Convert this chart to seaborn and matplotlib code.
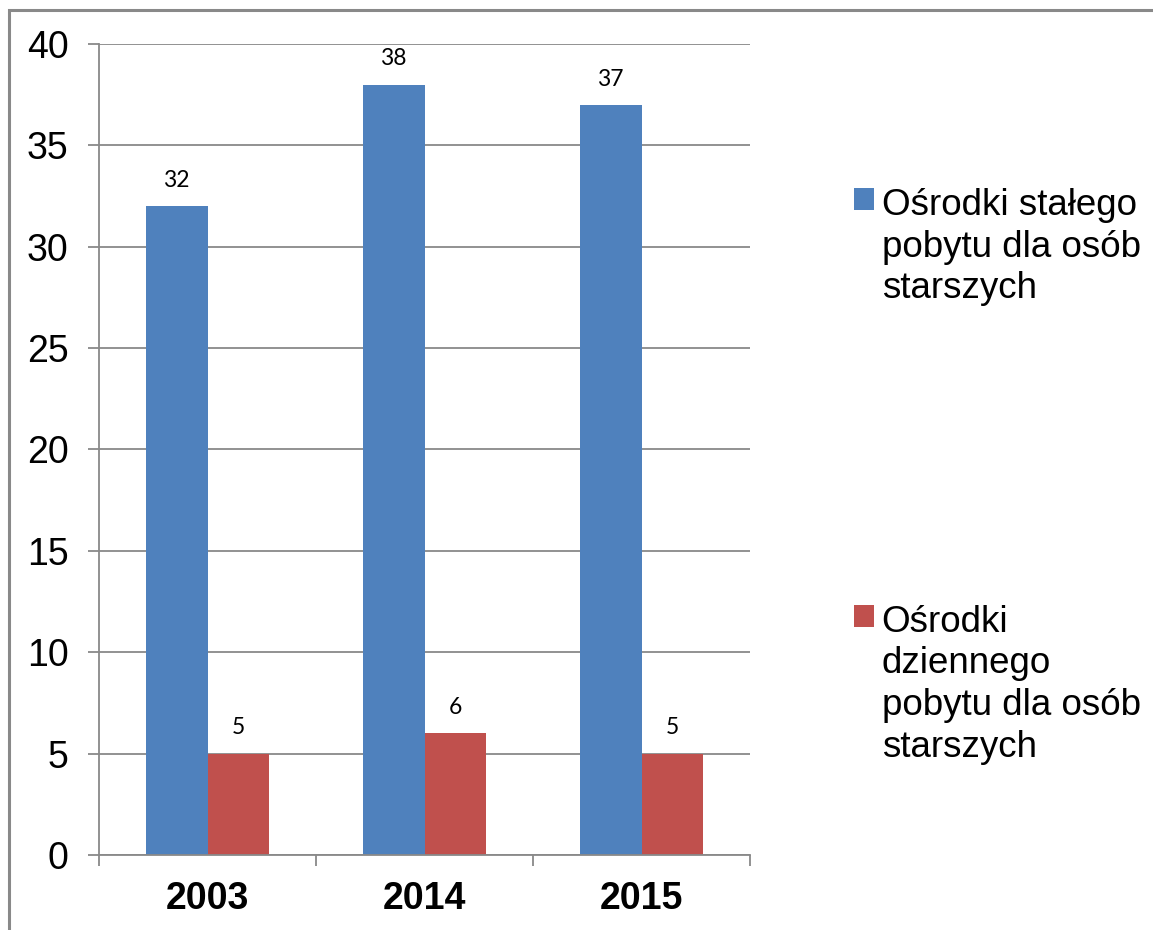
import matplotlib
matplotlib.use("Agg")
import matplotlib.pyplot as plt
import matplotlib.patches as mpatches
import seaborn as sns
import pandas as pd

years = ["2003", "2014", "2015"]
series_names = ["Ośrodki stałego\npobytu dla osób\nstarszych",
                "Ośrodki\ndziennego\npobytu dla osób\nstarszych"]
stale = [32, 38, 37]
dzienne = [5, 6, 5]
colors = ["#4F81BD", "#C0504D"]
yticks = [0, 5, 10, 15, 20, 25, 30, 35, 40]

df = pd.DataFrame({
    "rok": years * 2,
    "seria": [series_names[0]] * 3 + [series_names[1]] * 3,
    "wartosc": stale + dzienne,
})

sns.set_theme(style="white")
plt.rcParams["font.family"] = ["Liberation Sans", "DejaVu Sans"]
plt.rcParams["text.color"] = "black"
plt.rcParams["xtick.color"] = "black"
plt.rcParams["ytick.color"] = "black"

fig = plt.figure(figsize=(11.53, 9.30), dpi=100)
ax = fig.add_axes([99/1153, 1 - 855/930, (750 - 99)/1153, (855 - 44)/930])

sns.barplot(data=df, x="rok", y="wartosc", hue="seria", palette=colors,
            width=0.57, gap=0, saturation=1, ax=ax, errorbar=None,
            linewidth=0, edgecolor="none")

ax.set_xlim(-0.5, 2.5)
ax.set_ylim(0, 40)
ax.set_yticks(yticks)
ax.set_yticklabels([str(v) for v in yticks])
ax.set_xlabel("")
ax.set_ylabel("")
ax.yaxis.grid(True, color="#898989", linewidth=1.3)
ax.set_axisbelow(True)
for s in ["top", "right"]:
    ax.spines[s].set_visible(False)
for s in ["left", "bottom"]:
    ax.spines[s].set_color("#898989")
    ax.spines[s].set_linewidth(1.3)

ax.tick_params(axis="y", which="major", left=True, length=8, width=1.3,
               color="#898989", pad=14, labelsize=27, labelcolor="black")
ax.tick_params(axis="x", which="major", bottom=False, length=0, pad=19,
               labelcolor="black")
ax.set_xticks([-0.5, 0.5, 1.5, 2.5], minor=True)
ax.tick_params(axis="x", which="minor", bottom=True, length=8, width=1.3,
               color="#898989")
for lab in ax.get_xticklabels():
    lab.set_fontsize(27)
    lab.set_fontweight("bold")

for cont in ax.containers:
    ax.bar_label(cont, labels=[f"{int(v)}" for v in cont.datavalues],
                 padding=11, fontsize=16.5, color="black",
                 family=["Lato", "DejaVu Sans"])

old = ax.get_legend()
if old is not None:
    old.remove()
handles = [mpatches.Patch(facecolor=c, edgecolor="none") for c in colors]
leg = fig.legend(handles, series_names, loc="upper left",
                 bbox_to_anchor=(854/1153, 1 - 188/930), frameon=False,
                 fontsize=26.5, labelspacing=8.1, handlelength=0.55,
                 handleheight=0.55, handletextpad=0.2, borderpad=0,
                 borderaxespad=0)
for t in leg.get_texts():
    t.set_linespacing(1.25)
    t.set_color("black")
for col in leg._legend_handle_box.get_children():
    for hp in col.get_children():
        hp.align = "top"

frame = mpatches.Rectangle((9/1153, -0.2), 1.2, 1.2 - 10/930,
                           transform=fig.transFigure, fill=False,
                           edgecolor="#898989", linewidth=2.2)
fig.patches.append(frame)

fig.savefig("out.png", dpi=100)
